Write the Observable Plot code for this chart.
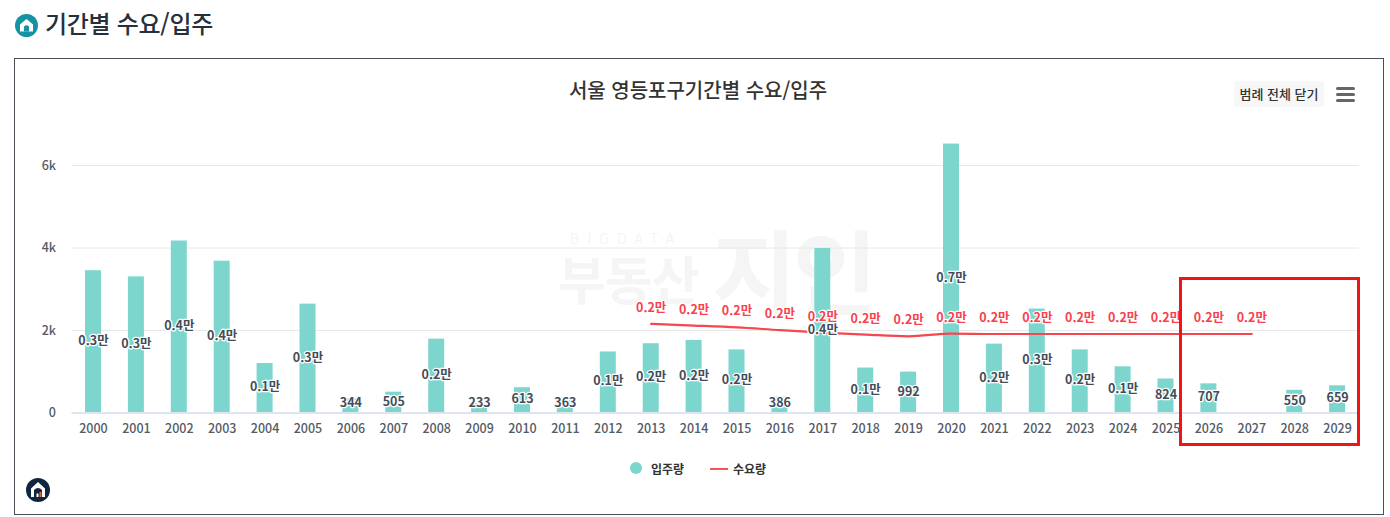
<!DOCTYPE html>
<html lang="ko">
<head>
<meta charset="utf-8">
<script src="https://cdn.jsdelivr.net/npm/d3@7"></script>
<script src="https://cdn.jsdelivr.net/npm/@observablehq/plot@0.6"></script>
<style>
html,body{margin:0;padding:0;background:#fff;overflow:hidden}
body{font-family:"Noto Sans CJK KR","Noto Sans",sans-serif}
#page{position:relative;width:1390px;height:517px;overflow:hidden}
#page>*{position:absolute}
#chart{left:0;top:0;z-index:2}
#chart svg{display:block;background:transparent}
#frame{left:14px;top:58px;width:1368px;height:455px;border:1px solid #4a4f57;box-sizing:content-box}
#head{left:45px;top:5px;font-size:24px;line-height:36px;color:#25303b;font-weight:500;letter-spacing:-.3px;white-space:nowrap}
#title{left:398px;width:600px;top:75px;text-align:center;font-size:20px;line-height:30px;color:#333;font-weight:500;white-space:nowrap}
#btn{left:1234px;top:81px;width:90px;height:26px;background:#f7f7f7;border-radius:3px;text-align:center;font-size:13px;line-height:26px;color:#333;font-weight:500;white-space:nowrap}
#menu{left:1336px;top:87px;width:19px;height:15px;z-index:3}
#menu i{display:block;height:3px;background:#666;border-radius:2px;margin-bottom:3px}
#box{left:1179px;top:277px;width:175px;height:163px;border:3px solid #f01414;z-index:4}
.wm{color:#f5f5f5;font-weight:700;white-space:nowrap}
#wm1{left:570px;top:229px;font-size:14px;line-height:18px;letter-spacing:8px;font-weight:400}
#wm2{left:558px;top:243px;font-size:52px;line-height:70px;letter-spacing:-1px}
#wm3{left:712px;top:205px;font-size:92px;line-height:125px;letter-spacing:-4px}
#lg1{left:630px;top:462px;width:12px;height:12px;border-radius:50%;background:#7dd6ce}
#lg2{left:651px;top:461px;font-size:12px;line-height:16px;font-weight:700;color:#333}
#lg3{left:710px;top:468px;width:18px;height:2px;background:#f4555a}
#lg4{left:733px;top:461px;font-size:12px;line-height:16px;font-weight:700;color:#333}
</style>
</head>
<body>
<div id="page">
  <svg style="left:15px;top:14px" width="23" height="23" viewBox="0 0 23 23"><circle cx="11.5" cy="11.5" r="11.5" fill="#1593a3"/><path d="M11.5 5 L18 10.5 V17.5 H5 V10.5 Z" fill="#fff"/><path d="M9 17.5 V12.5 Q11.5 10 14 12.5 V17.5 Z" fill="#1593a3"/></svg>
  <div id="head">기간별 수요/입주</div>
  <div id="frame"></div>
  <div class="wm" id="wm1">BIGDATA</div>
  <div class="wm" id="wm2">부동산</div>
  <div class="wm" id="wm3">지인</div>
  <div id="title">서울 영등포구기간별 수요/입주</div>
  <div id="btn">범례 전체 닫기</div>
  <div id="menu"><i></i><i></i><i></i></div>
  <div id="chart"></div>
  <div id="box"></div>
  <div id="lg1"></div><div id="lg2">입주량</div>
  <div id="lg3"></div><div id="lg4">수요량</div>
  <svg style="left:26px;top:478px" width="24" height="24" viewBox="0 0 24 24"><circle cx="12" cy="12" r="12" fill="#10263f"/><path d="M12 4 L19 10.5 V19 H5 V10.5 Z" fill="#fff"/><path d="M8 19 V12 Q12 8 16 12 V19 Z" fill="#10263f"/><rect x="13.5" y="14" width="2" height="5" fill="#e8662a"/><rect x="10.5" y="15.5" width="2" height="3.5" fill="#fff"/></svg>
</div>
<script>
const years = ["2000","2001","2002","2003","2004","2005","2006","2007","2008","2009","2010","2011","2012","2013","2014","2015","2016","2017","2018","2019","2020","2021","2022","2023","2024","2025","2026","2027","2028","2029"];
const supply = [3450,3300,4170,3680,1200,2640,344,505,1790,233,613,363,1480,1680,1760,1530,386,3990,1090,992,6520,1670,2520,1530,1120,824,707,0,550,659];
const supplyLabels = ["0.3만","0.3만","0.4만","0.4만","0.1만","0.3만","344","505","0.2만","233","613","363","0.1만","0.2만","0.2만","0.2만","386","0.4만","0.1만","992","0.7만","0.2만","0.3만","0.2만","0.1만","824","707","","550","659"];
const demandYears = ["2013","2014","2015","2016","2017","2018","2019","2020","2021","2022","2023","2024","2025","2026","2027"];
const demand = [2160,2120,2075,2010,1950,1900,1860,1925,1915,1915,1915,1915,1915,1915,1915];
const demandLabels = demandYears.map(() => "0.2만");
const yTicks = [0,2000,4000,6000];

const FONT = '"Noto Sans CJK KR","Noto Sans",sans-serif';
const bars = years.map((year,i) => ({year, value:supply[i], label:supplyLabels[i], mid:Math.max(supply[i]/2, 230)}));
const line = demandYears.map((year,i) => ({year, value:demand[i], label:demandLabels[i]}));

const plot = Plot.plot({
  width:1390, height:517,
  marginLeft:71.5, marginRight:31.5, marginTop:123.75, marginBottom:104.5,
  style:{fontFamily:FONT, background:"transparent"},
  x:{type:"band", domain:years, padding:0.627, round:false, range:[58.1,1372], label:null},
  y:{domain:[0,7000], label:null},
  marks:[
    Plot.ruleY(yTicks.filter(d => d>0), {stroke:"#e8e8e8", strokeWidth:1}),
    Plot.barY(bars, {x:"year", y:"value", fill:"#7dd6ce"}),
    Plot.ruleY([0], {stroke:"#dfe4f2", strokeWidth:2}),
    Plot.line(line, {x:"year", y:"value", stroke:"#f4474f", strokeWidth:2.2, curve:"monotone-x"}),
    Plot.text(bars, {x:"year", y:"mid", text:"label", dy:-1, fill:"#444c58", stroke:"#fff", strokeWidth:2.5, fontSize:12.5, fontWeight:600}),
    Plot.text(line, {x:"year", y:"value", text:"label", dy:-16, fill:"#f9414d", stroke:"#fff", strokeWidth:2.5, fontSize:12.5, fontWeight:600}),
    Plot.axisX({tickSize:0, tickPadding:11, fontSize:12.5, fontWeight:500, color:"#555b66", label:null, anchor:"bottom"}),
    Plot.axisY({ticks:yTicks, tickSize:0, tickPadding:16, fontSize:12.5, fontWeight:500, color:"#555b66", label:null, tickFormat:d => d===0 ? "0" : d/1000+"k"})
  ]
});
document.getElementById("chart").appendChild(plot);
</script>
</body>
</html>
